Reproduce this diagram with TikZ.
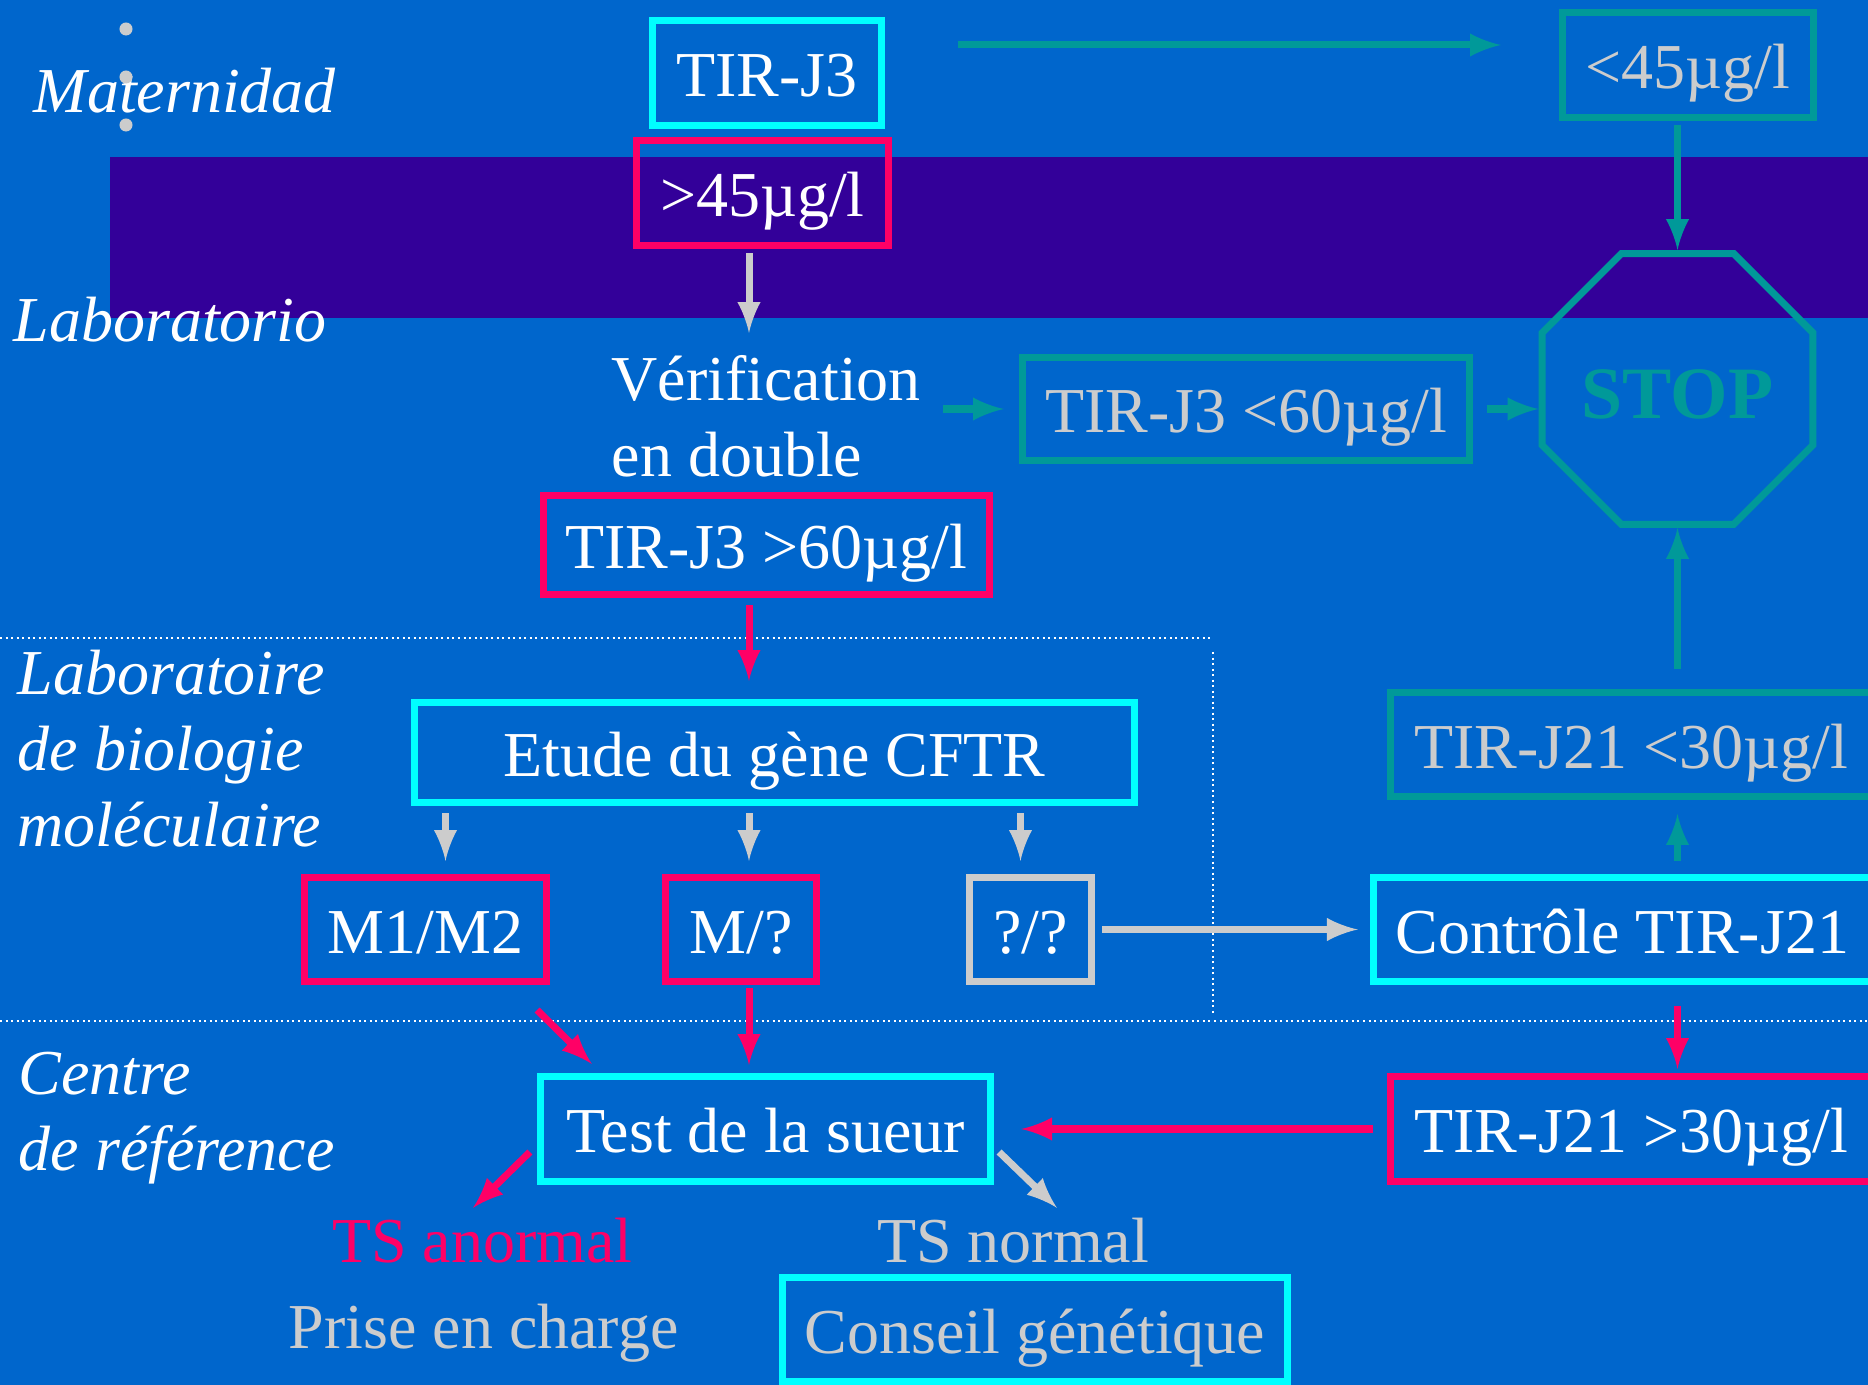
\documentclass[tikz,border=0pt]{standalone}
\usepackage{fontspec}
\setmainfont{Liberation Serif}
\usetikzlibrary{shapes.geometric,calc}
\definecolor{slideblue}{HTML}{0066CC}
\definecolor{bandpurple}{HTML}{330099}
\definecolor{boxcyan}{HTML}{00FFFF}
\definecolor{boxred}{HTML}{FF0066}
\definecolor{boxteal}{HTML}{009999}
\definecolor{boxgray}{HTML}{CCCCCC}
\newcommand{\bodysize}{\fontsize{18.2}{21.6}\selectfont}

\begin{document}
\begin{tikzpicture}[x=0.01cm,y=-0.01cm,
	every node/.style={font=\bodysize, text=white},
	box/.style={draw, line width=0.07cm, inner sep=0pt, minimum height=1.04cm, text height=0.62cm, text depth=0.15cm},
	cyanbox/.style={box, draw=boxcyan},
	redbox/.style={box, draw=boxred},
	tealbox/.style={box, draw=boxteal, text=boxgray},
	graybox/.style={box, draw=boxgray},
	zone/.style={font=\bodysize\itshape, inner sep=0pt, align=left},
	txt/.style={inner sep=0pt},
	tealarrow/.style={-latex, line width=0.07cm, boxteal},
	redarrow/.style={-latex, line width=0.07cm, boxred},
	grayarrow/.style={-latex, line width=0.07cm, boxgray},
	sep/.style={white, line width=0.02cm, densely dotted}]
	\useasboundingbox (0,0) rectangle (1868,1385);
	\fill[slideblue] (0,0) rectangle (1868,1385);
	\fill[bandpurple] (110,157) rectangle (1868,318);
	\draw[sep] (0,638) -- (1211,638);
	\draw[sep] (1213,652) -- (1213,1016);
	\draw[sep] (0,1021) -- (1868,1021);
	% zones
	\node[zone, anchor=base west] (mat) at (33,113) {Maternidad};
	\node[zone, anchor=base west] (lab) at (13,342) {Laboratorio};
	\node[zone, anchor=north west] (bio) at (17,649) {Laboratoire\\de biologie\\moléculaire};
	\node[zone, anchor=north west] (ref) at (18,1051) {Centre\\de référence};
	\foreach \y in {29,77,125}
	\fill[boxgray] (126,\y) circle (0.065cm);
	% nodes
	\coordinate (axis) at (749,0);
	\node[cyanbox, minimum width=2.29cm, minimum height=1.05cm] (tirj3) at (767,73) {TIR-J3};
	\node[redbox, minimum width=2.52cm, minimum height=1.05cm] (gt45) at (762.5,193) {>45µg/l};
	\node[tealbox, minimum width=2.51cm, minimum height=1.05cm] (lt45) at (1688,65) {<45µg/l};
	\node[txt, align=left, anchor=north west] (verif) at (611,355) {Vérification\\en double};
	\node[tealbox, minimum width=4.47cm, minimum height=1.03cm] (lt60) at (1246,409) {TIR-J3 <60µg/l};
	\node[regular polygon, regular polygon sides=8, minimum size=2.84cm, draw=boxteal, line width=0.07cm, inner sep=0pt, text=boxteal, text height=0.59cm, text depth=0.01cm, font=\fontsize{21}{25}\selectfont\bfseries] (stop) at (1677.5,389) {STOP};
	\node[redbox, minimum width=4.46cm, minimum height=0.99cm] (gt60) at (766.5,545) {TIR-J3 >60µg/l};
	\node[cyanbox, minimum width=7.20cm, minimum height=1.00cm] (etude) at (774.5,752.5) {Etude du gène CFTR};
	\node[redbox, minimum width=2.42cm] (m1m2) at (425.5,929.5) {M1/M2};
	\node[redbox, minimum width=1.51cm] (mq) at (741,929.5) {M/?};
	\node[graybox, minimum width=1.22cm] (qq) at (1030.5,929.5) {?/?};
	\node[cyanbox, minimum width=4.98cm] (ctrl) at (1622.5,929.5) {Contrôle TIR-J21};
	\node[tealbox, minimum width=4.81cm] (lt30) at (1631,744.5) {TIR-J21 <30µg/l};
	\node[redbox, minimum width=4.81cm, minimum height=1.05cm] (gt30) at (1631,1129) {TIR-J21 >30µg/l};
	\node[cyanbox, minimum width=4.50cm, minimum height=1.05cm] (sueur) at (765.5,1129) {Test de la sueur};
	\node[txt, anchor=base, text=boxred] (tsan) at (482.5,1262) {TS anormal};
	\node[txt, anchor=base, text=boxgray] (tsn) at (1013,1262) {TS normal};
	\node[txt, anchor=base, text=boxgray] (prise) at (483.5,1348) {Prise en charge};
	\node[cyanbox, minimum width=5.05cm, text=boxgray] (conseil) at (1035,1329.5) {Conseil génétique};
	% arrows
	\coordinate (topline) at ($(tirj3.east)+(0,-28)$);
	\draw[tealarrow, shorten <=0.73cm, shorten >=0.58cm] (topline) -- (topline -| lt45.west);
	\draw[tealarrow, shorten <=0.04cm] (lt45.south -| stop.north) -- (stop.north);
	\draw[grayarrow, shorten <=0.04cm, shorten >=0.22cm] (gt45.south -| axis) -- (verif.north -| axis);
	\draw[tealarrow, shorten <=0.21cm, shorten >=0.15cm] (verif.east |- lt60.west) -- (lt60.west);
	\draw[tealarrow, shorten <=0.14cm] (lt60.east) -- (lt60.east -| stop.west);
	\draw[redarrow, shorten <=0.07cm, shorten >=0.18cm] (gt60.south -| axis) -- (etude.north -| axis);
	\foreach \res/\dx in {m1m2/20, mq/8, qq/-10}
	\draw[grayarrow] ($(etude.south -| \res)+(\dx,7)$) -- ($(\res.north)+(\dx,-13)$);
	\draw[grayarrow, shorten <=0.07cm, shorten >=0.12cm] (qq.east) -- (ctrl.west);
	\draw[tealarrow, shorten <=0.13cm, shorten >=0.14cm] (ctrl.north -| stop.south) -- (lt30.south -| stop.south);
	\draw[tealarrow, shorten <=0.2cm] (lt30.north -| stop.south) -- (stop.south);
	\draw[redarrow, shorten <=0.21cm, shorten >=0.04cm] (ctrl.south -| stop.south) -- (gt30.north -| stop.south);
	\draw[redarrow, shorten <=0.14cm, shorten >=0.27cm] (gt30.west) -- (sueur.east);
	\draw[redarrow] ($(m1m2.south east)+(-13,25)$) -- ($(sueur.north west)+(55,-9)$);
	\draw[redarrow, shorten <=0.03cm, shorten >=0.08cm] (mq.south -| axis) -- (sueur.north -| axis);
	\draw[redarrow] ($(sueur.west)+(-7,23)$) -- ($(tsan.north)+(-9.5,-9)$);
	\draw[grayarrow] ($(sueur.east)+(5,23)$) -- ($(tsn.north)+(44,-9)$);
\end{tikzpicture}
\end{document}
